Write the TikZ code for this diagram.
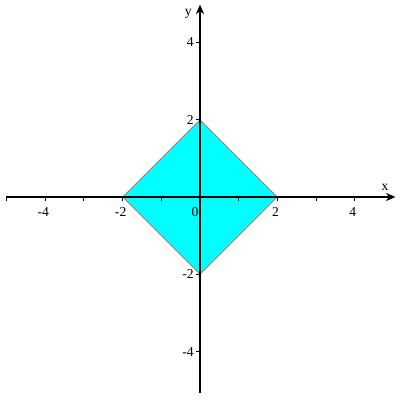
\documentclass[tikz,border=0pt]{standalone}
\usepackage{fontspec}
\setmainfont{Liberation Serif}
\usepackage{tikz}
\usetikzlibrary{arrows.meta}
\definecolor{diamondCyan}{RGB}{0,255,255}
\definecolor{diamondRed}{RGB}{255,0,0}

\begin{document}
\begin{tikzpicture}[x=1cm,y=1cm,
    axisline/.style={line width=2pt, -{Stealth[length=7pt,width=6pt]}},
    ticklabel/.style={font=\fontsize{10}{12}\selectfont, inner sep=1pt}]
    \useasboundingbox (-5.168,-5.245) rectangle (5.168,5.09);

    % filled region
    \filldraw[fill=diamondCyan, draw=diamondRed, line width=0.3pt]
        (2,0) -- (0,2) -- (-2,0) -- (0,-2) -- cycle;

    % axes
    \coordinate (xmin) at (-5.0,0);
    \coordinate (xmax) at (5.05,0);
    \coordinate (ymin) at (0,-5.06);
    \coordinate (ymax) at (0,4.97);
    \draw[axisline] (xmin) -- (xmax);
    \draw[axisline] (ymin) -- (ymax);

    % ticks
    \foreach \t in {-5,...,-1,1,2,3,4} {
        \draw[line width=0.6pt] (\t,0) -- (\t,-0.11);
    }
    \foreach \t in {-4,-2,2,4} {
        \draw[line width=0.6pt] (0,\t) -- (-0.11,\t);
    }

    % tick labels
    \foreach \t in {-4,-2,2,4} {
        \node[ticklabel] (xl\t) at (\t-0.05,-0.4) {\t};
        \node[ticklabel, anchor=east] (yl\t) at (-0.12,\t) {\t};
    }
    \node[ticklabel] (origin) at (-0.13,-0.4) {0};
    \node[ticklabel] (xname) at (4.78,0.25) {x};
    \node[ticklabel] (yname) at (-0.3,4.72) {y};
\end{tikzpicture}
\end{document}
